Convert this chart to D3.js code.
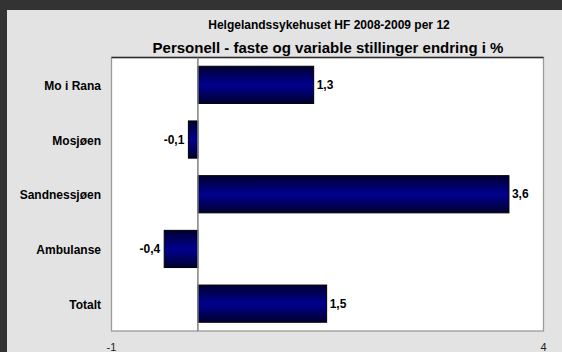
<!DOCTYPE html>
<html>
<head>
<meta charset="utf-8">
<script src="https://cdn.jsdelivr.net/npm/d3@7"></script>
<style>
  body { margin: 0; background: #333333; }
  svg { display: block; font-family: "Liberation Sans", Arial, sans-serif; }
</style>
</head>
<body>
<div id="chart"></div>
<script>
var categories = ["Mo i Rana", "Mosjøen", "Sandnessjøen", "Ambulanse", "Totalt"],
    values = [1.34, -0.11, 3.6, -0.39, 1.49],
    valueLabels = ["1,3", "-0,1", "3,6", "-0,4", "1,5"],
    xTicks = [-1, 4];

var width = 562, height = 352;
var plot = {left: 111.5, right: 543.5, top: 57.5, bottom: 331};

var svg = d3.select("#chart").append("svg")
    .attr("width", width)
    .attr("height", height);

var defs = svg.append("defs");
var grad = defs.append("linearGradient")
    .attr("id", "barGrad")
    .attr("x1", 0).attr("y1", 0).attr("x2", 0).attr("y2", 1);
grad.append("stop").attr("offset", "0%").attr("stop-color", "#00002e");
grad.append("stop").attr("offset", "45%").attr("stop-color", "#000088");
grad.append("stop").attr("offset", "55%").attr("stop-color", "#000088");
grad.append("stop").attr("offset", "100%").attr("stop-color", "#00002e");

// chart area
svg.append("rect")
    .attr("x", 7).attr("y", 10)
    .attr("width", width - 7).attr("height", height - 10)
    .attr("fill", "#e3e3e3");

var x = d3.scaleLinear().domain([-1, 4]).range([plot.left, plot.right]);
var y = d3.scaleBand().domain(categories)
    .range([plot.top, plot.bottom])
    .paddingInner(0.32).paddingOuter(0.16);

// plot area
svg.append("rect")
    .attr("x", plot.left).attr("y", plot.top)
    .attr("width", plot.right - plot.left).attr("height", plot.bottom - plot.top)
    .attr("fill", "#ffffff")
    .attr("stroke", "#9a9a9a")
    .attr("stroke-width", 1.3);
svg.append("line")
    .attr("x1", plot.left).attr("x2", plot.right)
    .attr("y1", plot.top).attr("y2", plot.top)
    .attr("stroke", "#2a2a2a").attr("stroke-width", 1.3);

// titles
svg.append("text")
    .attr("x", 329).attr("y", 29)
    .attr("text-anchor", "middle")
    .attr("font-size", 12).attr("font-weight", "bold")
    .text("Helgelandssykehuset HF 2008-2009 per 12");
svg.append("text")
    .attr("x", 328).attr("y", 53)
    .attr("text-anchor", "middle")
    .attr("font-size", 15).attr("font-weight", "bold")
    .text("Personell - faste og variable stillinger endring i %");

// bars
svg.selectAll(".bar")
    .data(values)
    .enter().append("rect")
    .attr("class", "bar")
    .attr("x", function (d) { return x(Math.min(0, d)); })
    .attr("y", function (d, i) { return y(categories[i]); })
    .attr("width", function (d) { return Math.abs(x(d) - x(0)); })
    .attr("height", y.bandwidth())
    .attr("fill", "url(#barGrad)")
    .attr("stroke", "#000000")
    .attr("stroke-width", 1);

// zero line
svg.append("line")
    .attr("x1", x(0)).attr("x2", x(0))
    .attr("y1", plot.top).attr("y2", plot.bottom)
    .attr("stroke", "#808080").attr("stroke-width", 1.5);

// value labels
svg.selectAll(".vlabel")
    .data(values)
    .enter().append("text")
    .attr("class", "vlabel")
    .attr("x", function (d) { return d >= 0 ? x(d) + 3 : x(d) - 4; })
    .attr("y", function (d, i) { return y(categories[i]) + y.bandwidth() / 2; })
    .attr("dy", ".35em")
    .attr("text-anchor", function (d) { return d >= 0 ? "start" : "end"; })
    .attr("font-size", 12).attr("font-weight", "bold")
    .text(function (d, i) { return valueLabels[i]; });

// category labels
svg.selectAll(".clabel")
    .data(categories)
    .enter().append("text")
    .attr("class", "clabel")
    .attr("x", 101)
    .attr("y", function (d) { return y(d) + y.bandwidth() / 2 + 1; })
    .attr("dy", ".35em")
    .attr("text-anchor", "end")
    .attr("font-size", 12).attr("font-weight", "bold")
    .text(function (d) { return d; });

// x tick labels
svg.selectAll(".xtick")
    .data(xTicks)
    .enter().append("text")
    .attr("class", "xtick")
    .attr("x", function (d) { return x(d); })
    .attr("y", 351)
    .attr("text-anchor", "middle")
    .attr("font-size", 11)
    .attr("fill", "#222")
    .text(function (d) { return d; });
</script>
</body>
</html>
